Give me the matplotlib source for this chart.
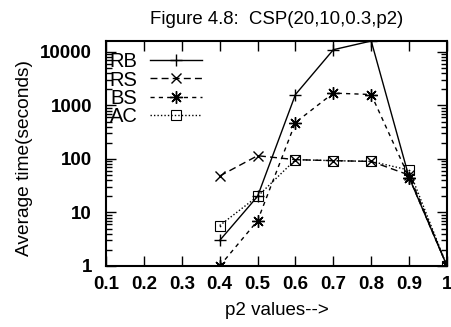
import matplotlib
matplotlib.use("Agg")
import matplotlib.pyplot as plt

plt.rcParams["font.family"] = ["Liberation Sans", "DejaVu Sans"]

p2 = [0.4, 0.5, 0.6, 0.7, 0.8, 0.9, 1.0]
rb = [3, 20, 1600, 11000, 16000, 45, 1]
rs = [48, 115, 97, 93, 90, 50, 1]
bs = [1, 7, 480, 1700, 1600, 45, 1]
ac = [5.7, 20, 97, 93, 90, 62, 1]

x_ticks = [0.1, 0.2, 0.3, 0.4, 0.5, 0.6, 0.7, 0.8, 0.9, 1.0]
x_labels = ["0.1", "0.2", "0.3", "0.4", "0.5", "0.6", "0.7", "0.8", "0.9", "1"]
y_ticks = [1, 10, 100, 1000, 10000]
y_labels = ["1", "10", "100", "1000", "10000"]

fig = plt.figure(figsize=(4.52, 3.27), dpi=100)
ax = fig.add_axes([106 / 452, 61 / 327, 341 / 452, 225 / 327])

ax.plot(p2, rb, color="black", lw=1, ls="-", marker="+", ms=9, mew=1, label="RB")
ax.plot(p2, rs, color="black", lw=1, ls=(0, (5, 3)), marker="x", ms=7, mew=1, label="RS")
ax.plot(p2, bs, color="black", lw=1, ls=(0, (3, 3)), marker=(8, 2, 0), ms=9, mew=1, label="BS")
ax.plot(p2, ac, color="black", lw=1, ls=(0, (1, 1.5)), marker="s", ms=7, mew=0.8,
        mfc="none", label="AC")
# gnuplot's box point has a dot in the middle
ax.plot(p2, ac, color="black", ls="none", marker="o", ms=1.2, mew=0)

ax.set_yscale("log")
ax.set_xlim(0.1, 1.0)
ax.set_ylim(1, 16000)
ax.set_xticks(x_ticks)
ax.set_xticklabels(x_labels)
ax.set_yticks(y_ticks)
ax.set_yticklabels(y_labels)
ax.tick_params(which="both", direction="in", top=True, right=True, labelsize=13.5)
ax.tick_params(axis="y", pad=10)
ax.tick_params(axis="x", pad=7)
ax.tick_params(which="major", length=7, width=1)
ax.tick_params(which="minor", length=4, width=1)
for lbl in ax.get_xticklabels() + ax.get_yticklabels():
    lbl.set_fontweight("bold")
for s in ax.spines.values():
    s.set_linewidth(1.5)

ax.set_xlabel("p2 values-->", fontsize=13.5)
ax.xaxis.set_label_coords(0.5, -0.16)
ax.set_ylabel("Average time(seconds)", fontsize=13.8)
ax.yaxis.set_label_coords(-0.215, 0.48)
fig.text(277 / 452, 1 - 19 / 327, "Figure 4.8:  CSP(20,10,0.3,p2)", ha="center", va="center",
         fontsize=13.4)

ax.legend(loc="upper left", bbox_to_anchor=(0.008, 0.955), frameon=False, markerfirst=False,
          numpoints=1, fontsize=14.5, handlelength=2.6, handletextpad=0.6, labelspacing=-0.03,
          borderaxespad=0.0, borderpad=0.05)

fig.savefig("out.png", dpi=100)
